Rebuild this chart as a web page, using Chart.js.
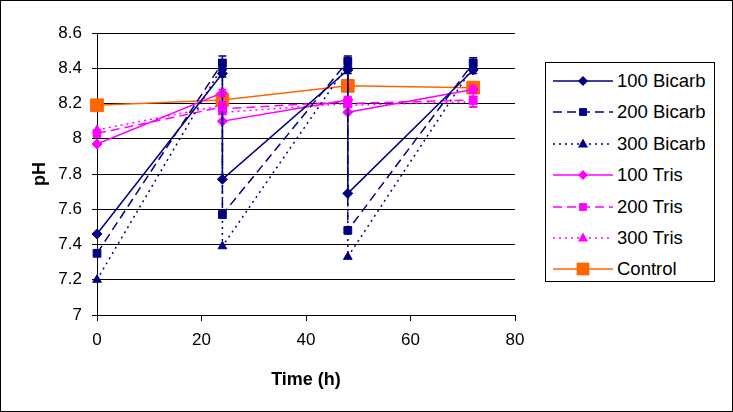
<!DOCTYPE html>
<html>
<head>
<meta charset="utf-8">
<script src="https://cdn.jsdelivr.net/npm/chart.js@4"></script>
<style>
  html, body { margin: 0; padding: 0; background: #fff; }
  #frame { position: absolute; left: 0; top: 0; width: 733px; height: 412px; box-sizing: border-box; border: 1px solid #000; }
  #wrap { position: absolute; left: 0; top: 0; width: 733px; height: 412px; }
  #legend { position: absolute; left: 545px; top: 62px; width: 170px; height: 220px; box-sizing: border-box;
            border: 1px solid #000; font-family: "Liberation Sans", Arial, sans-serif; font-size: 18.5px; background: #fff; }
  .row { position: absolute; left: 7px; height: 24px; display: flex; align-items: center; }
  .row svg { display: block; margin-right: 4px; }
</style>
</head>
<body>
<div id="frame"></div>
<div id="wrap"><canvas id="chart" width="733" height="412"></canvas></div>
<div id="legend"></div>
<script>
document.addEventListener('DOMContentLoaded', () => {
    const times = [0, 24, 24, 48, 48, 72];
    const controlTimes = [0, 24, 48, 72];

    const bicarb100 = [7.46, 8.37, 7.77, 8.39, 7.69, 8.39];
    const bicarb200 = [7.35, 8.43, 7.57, 8.44, 7.48, 8.43];
    const bicarb300 = [7.20, 8.41, 7.39, 8.42, 7.33, 8.41];
    const tris100 = [7.97, 8.26, 8.10, 8.22, 8.15, 8.28];
    const tris200 = [8.03, 8.18, 8.17, 8.21, 8.20, 8.22];
    const tris300 = [8.05, 8.19, 8.15, 8.20, 8.19, 8.21];
    const control = [8.19, 8.22, 8.30, 8.29];

    const bicarb100Err = [0, 0.02, 0, 0.02, 0, 0.02];
    const bicarb200Err = [0, 0.04, 0, 0.03, 0, 0.03];
    const bicarb300Err = [0, 0.02, 0, 0.02, 0, 0.02];
    const tris100Err = [0, 0.02, 0, 0.02, 0, 0.02];
    const tris200Err = [0, 0.02, 0, 0.02, 0, 0.04];
    const tris300Err = [0, 0.02, 0, 0.02, 0, 0.03];

    const yTicks = ['7', '7.2', '7.4', '7.6', '7.8', '8', '8.2', '8.4', '8.6'];
    const xTicks = ['0', '20', '40', '60', '80'];

    const navy = '#000080';
    const pink = '#FF00FF';
    const orange = '#FF6600';

    const pts = (xs, ys) => xs.map((x, i) => ({ x: x, y: ys[i] }));

    const series = [
        { label: '100 Bicarb', data: pts(times, bicarb100), err: bicarb100Err, color: navy, dash: [], style: 'rectRot', r: 5 },
        { label: '200 Bicarb', data: pts(times, bicarb200), err: bicarb200Err, color: navy, dash: [9, 5], style: 'rect', r: 5.5 },
        { label: '300 Bicarb', data: pts(times, bicarb300), err: bicarb300Err, color: navy, dash: [2, 4], style: 'triangle', r: 5 },
        { label: '100 Tris', data: pts(times, tris100), err: tris100Err, color: pink, dash: [], style: 'rectRot', r: 5 },
        { label: '200 Tris', data: pts(times, tris200), err: tris200Err, color: pink, dash: [9, 5], style: 'rect', r: 5.5 },
        { label: '300 Tris', data: pts(times, tris300), err: tris300Err, color: pink, dash: [2, 4], style: 'triangle', r: 5 },
        { label: 'Control', data: pts(controlTimes, control), err: null, color: orange, dash: [], style: 'rect', r: 9 }
    ];

    // vertical error bars with caps
    const errorBars = {
        id: 'errorBars',
        afterDatasetsDraw(chart) {
            const ctx = chart.ctx;
            const xs = chart.scales.x, ys = chart.scales.y;
            chart.data.datasets.forEach(ds => {
                if (!ds.err) return;
                ctx.save();
                ctx.strokeStyle = ds.borderColor;
                ctx.lineWidth = 1.5;
                ds.data.forEach((p, i) => {
                    const e = ds.err[i];
                    if (!e) return;
                    const px = xs.getPixelForValue(p.x);
                    const top = ys.getPixelForValue(p.y + e);
                    const bot = ys.getPixelForValue(p.y - e);
                    ctx.beginPath();
                    ctx.moveTo(px, top); ctx.lineTo(px, bot);
                    ctx.moveTo(px - 4, top); ctx.lineTo(px + 4, top);
                    ctx.moveTo(px - 4, bot); ctx.lineTo(px + 4, bot);
                    ctx.stroke();
                });
                ctx.restore();
            });
        }
    };

    new Chart(document.getElementById('chart'), {
        type: 'line',
        data: {
            datasets: series.map(s => ({
                label: s.label,
                data: s.data,
                err: s.err,
                borderColor: s.color,
                backgroundColor: s.color,
                borderWidth: 1.5,
                borderDash: s.dash,
                pointStyle: s.style,
                pointRadius: s.r,
                pointHoverRadius: s.r,
                pointBorderWidth: 1,
                tension: 0,
                clip: false
            }))
        },
        options: {
            responsive: false,
            animation: false,
            layout: { padding: { left: 0, right: 218, top: 33, bottom: 0 } },
            plugins: { legend: { display: false }, tooltip: { enabled: false } },
            scales: {
                x: {
                    type: 'linear',
                    min: 0, max: 80,
                    afterFit: s => { s.height = 97; },
                    grid: { drawOnChartArea: false, color: '#000', tickLength: 6, tickColor: '#000' },
                    border: { color: '#000', width: 1 },
                    ticks: {
                        stepSize: 20, color: '#000', padding: 9,
                        font: { family: 'Liberation Sans', size: 17 },
                        callback: (v, i) => xTicks[i]
                    },
                    title: {
                        display: true, text: 'Time (h)', color: '#000',
                        font: { family: 'Liberation Sans', size: 18, weight: 'bold' },
                        padding: { top: 0, bottom: 21 }
                    }
                },
                y: {
                    min: 7, max: 8.6,
                    afterFit: s => { s.width = 97; },
                    grid: { color: '#000', lineWidth: 1, tickLength: 5, tickColor: '#000' },
                    border: { color: '#000', width: 1 },
                    ticks: {
                        stepSize: 0.2, color: '#000', padding: 10,
                        font: { family: 'Liberation Sans', size: 17 },
                        callback: (v, i) => yTicks[i]
                    },
                    title: {
                        display: true, text: 'pH', color: '#000',
                        font: { family: 'Liberation Sans', size: 18, weight: 'bold' },
                        padding: { top: 29, bottom: 0 }
                    }
                }
            }
        },
        plugins: [errorBars]
    });

    // legend with line + marker samples
    const legend = document.getElementById('legend');
    const marker = (s) => {
        const c = s.color;
        if (s.style === 'rectRot') return `<polygon points="30,5 35,10 30,15 25,10" fill="${c}"/>`;
        if (s.style === 'triangle') return `<polygon points="30,4.5 35,13.5 25,13.5" fill="${c}"/>`;
        const h = s.r * Math.SQRT1_2;
        return `<rect x="${30 - h}" y="${10 - h}" width="${2 * h}" height="${2 * h}" fill="${c}"/>`;
    };
    series.forEach((s, i) => {
        const row = document.createElement('div');
        row.className = 'row';
        row.style.top = (6 + i * 31.4) + 'px';
        const dash = s.dash.length ? `stroke-dasharray="${s.dash.join(' ')}"` : '';
        row.innerHTML = `<svg width="60" height="20"><line x1="0" y1="10" x2="60" y2="10" stroke="${s.color}" stroke-width="1.5" ${dash}/>${marker(s)}</svg><span>${s.label}</span>`;
        legend.appendChild(row);
    });
});
</script>
</body>
</html>
